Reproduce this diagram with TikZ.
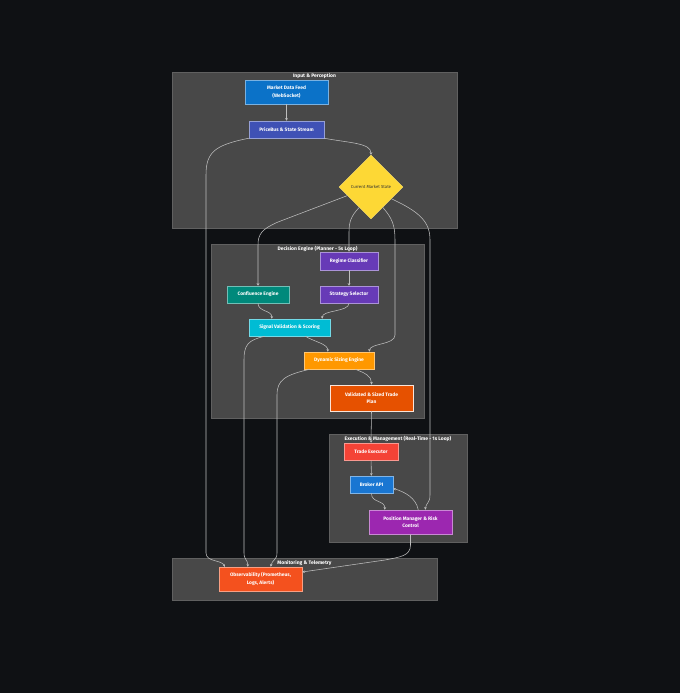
\documentclass[tikz,border=0pt]{standalone}
\usepackage{fontspec}
\setmainfont{Fira Sans}
\usetikzlibrary{shapes.geometric, arrows.meta, positioning}
\definecolor{bgdark}{RGB}{15,17,20}
\definecolor{clusterfill}{RGB}{72,72,72}
\definecolor{clusterline}{RGB}{96,96,96}
\definecolor{edgegray}{RGB}{190,190,190}
\definecolor{feedblue}{RGB}{11,114,200}
\definecolor{busindigo}{RGB}{63,81,181}
\definecolor{stateyellow}{RGB}{253,216,53}
\definecolor{regimepurple}{RGB}{103,58,183}
\definecolor{confteal}{RGB}{0,137,123}
\definecolor{signalcyan}{RGB}{0,188,212}
\definecolor{sizingorange}{RGB}{255,152,0}
\definecolor{planorange}{RGB}{230,81,0}
\definecolor{execred}{RGB}{244,67,54}
\definecolor{brokerblue}{RGB}{25,118,210}
\definecolor{riskpurple}{RGB}{156,39,176}
\definecolor{obsorange}{RGB}{244,81,30}
\tikzset{
    cluster/.style={rectangle, draw=clusterline, fill=clusterfill, line width=0.6pt, inner sep=0pt},
    cluster_title/.style={text=white, font=\fontsize{5}{6}\selectfont\bfseries, inner sep=0pt},
    block/.style={rectangle, draw=#1!55!white, fill=#1, text=white, align=center, inner sep=0pt, line width=0.5pt, font=\fontsize{4.9}{7.4}\selectfont\bfseries},
    block_plan/.style={block=planorange, draw=white!85!planorange, line width=0.9pt},
    decision/.style={diamond, aspect=1, fill=stateyellow, draw=stateyellow!70!white, inner sep=0pt, minimum width=64pt, minimum height=64pt, text=black!80, font=\fontsize{4.3}{5}\selectfont},
    arrow/.style={-{Stealth[length=2.6pt,width=2.6pt]}, line width=0.55pt, draw=edgegray}
}
\begin{document}
\begin{tikzpicture}[x=1pt, y=-1pt]
            \fill [bgdark] (0,0) rectangle (680,693);
            \useasboundingbox (0,0) rectangle (680,693);

            % Subgraphs
            \node (inp) [cluster, minimum width=285pt, minimum height=156pt] at (314.5,150) {};
            \node (dec) [cluster, minimum width=213pt, minimum height=174pt] at (317.5,331) {};
            \node (exe) [cluster, minimum width=138pt, minimum height=108pt] at (398,488) {};
            \node (mon) [cluster, minimum width=265pt, minimum height=42pt] at (304.5,579) {};
            \node [cluster_title, below=2pt of inp.north] {Input \& Perception};
            \node [cluster_title, below=2pt of dec.north] {Decision Engine (Planner - 5s Loop)};
            \node [cluster_title, below=2pt of exe.north] {Execution \& Management (Real-Time - 1s Loop)};
            \node [cluster_title, below=2.5pt of mon.north] {Monitoring \& Telemetry};

            % Input & Perception
            \node (mdf) [block=feedblue, minimum width=83pt, minimum height=24pt] at (286.5,92) {Market Data Feed\\(WebSocket)};
            \node (pb) [block=busindigo, minimum width=75pt, minimum height=17pt] at (286.5,129.5) {PriceBus \& State Stream};
            \node (cms) [decision] at (371,187) {Current Market State};

            % Decision Engine
            \node (reg) [block=regimepurple, minimum width=58pt, minimum height=18pt] at (349,261) {Regime Classifier};
            \node (conf) [block=confteal, minimum width=62pt, minimum height=17pt] at (258,294.5) {Confluence Engine};
            \node (strat) [block=regimepurple, minimum width=58pt, minimum height=17pt] at (349,294.5) {Strategy Selector};
            \node (sig) [block=signalcyan, minimum width=81pt, minimum height=17pt] at (289.5,327.5) {Signal Validation \& Scoring};
            \node (dyn) [block=sizingorange, minimum width=70pt, minimum height=17pt] at (339,360.5) {Dynamic Sizing Engine};
            \node (plan) [block_plan, minimum width=83pt, minimum height=26pt] at (371.5,398) {Validated \& Sized Trade\\Plan};

            % Execution & Management
            \node (te) [block=execred, minimum width=54pt, minimum height=17pt] at (371,451.5) {Trade Executor};
            \node (broker) [block=brokerblue, minimum width=43pt, minimum height=17pt] at (371.5,484.5) {Broker API};
            \node (pm) [block=riskpurple, minimum width=83pt, minimum height=24pt] at (410.5,522) {Position Manager \& Risk\\Control};

            % Monitoring
            \node (obs) [block=obsorange, minimum width=83pt, minimum height=24pt] at (260.5,579) {Observability (Prometheus,\\Logs, Alerts)};

            % Flow
            \draw [arrow] (mdf) -- (pb);
            \draw [arrow] (pb.south east) .. controls (350,143) and (371,143) .. (cms.north);
            \draw [arrow] (pb.south west) .. controls (215,145) and (206,152) .. (206,175) -- (206,553) .. controls (206,562) and (222,560) .. ([xshift=6pt]obs.north west);
            \draw [arrow] (cms.200) -- (278,222) .. controls (262,229) and (258,234) .. (258,245) -- (conf.north);
            \draw [arrow] (cms.240) .. controls (351,216) and (349,222) .. (349,232) -- (reg.north);
            \draw [arrow] (cms.300) .. controls (392,218) and (395,225) .. (395,240) -- (395,335) .. controls (395,345) and (370,343) .. ([xshift=-5pt]dyn.north east);
            \draw [arrow] (cms.330) .. controls (420,212) and (430,222) .. (430,240) -- (430,495) .. controls (430,503) and (426,503) .. ([xshift=-27pt]pm.north east);
            \draw [arrow] (reg) -- (strat);
            \draw [arrow] (conf.south) .. controls (258,312) and (272,310) .. ([xshift=23pt]sig.north west);
            \draw [arrow] (strat.south) .. controls (349,312) and (322,310) .. ([xshift=-8pt]sig.north east);
            \draw [arrow] ([xshift=-25pt]sig.south east) .. controls (315,342) and (328,344) .. ([xshift=24pt]dyn.north west);
            \draw [arrow] ([xshift=16pt]sig.south west) .. controls (248,340) and (244,345) .. (244,360) -- (244,553) .. controls (244,560) and (248,560) .. ([xshift=29pt]obs.north west);
            \draw [arrow] ([xshift=-19pt]dyn.south east) .. controls (365,373) and (371.5,376) .. (plan.north);
            \draw [arrow] ([xshift=6pt]dyn.south west) .. controls (285,375) and (277,380) .. (277,395) -- (277,553) .. controls (277,560) and (272,560) .. ([xshift=52pt]obs.north west);
            \draw [arrow] (plan.south) -- (te.north);
            \draw [arrow] (te) -- (broker);
            \draw [arrow] (broker.south) .. controls (371,503) and (385,500) .. ([xshift=16pt]pm.north west);
            \draw [arrow] ([xshift=-34pt]pm.north east) .. controls (416,498) and (405,492) .. ([yshift=-4pt]broker.east);
            \draw [arrow] (pm.south) -- (410.5,545) .. controls (410.5,556) and (400,557) .. (385,560) -- ([yshift=7pt]obs.east);
		\end{tikzpicture}
\end{document}
